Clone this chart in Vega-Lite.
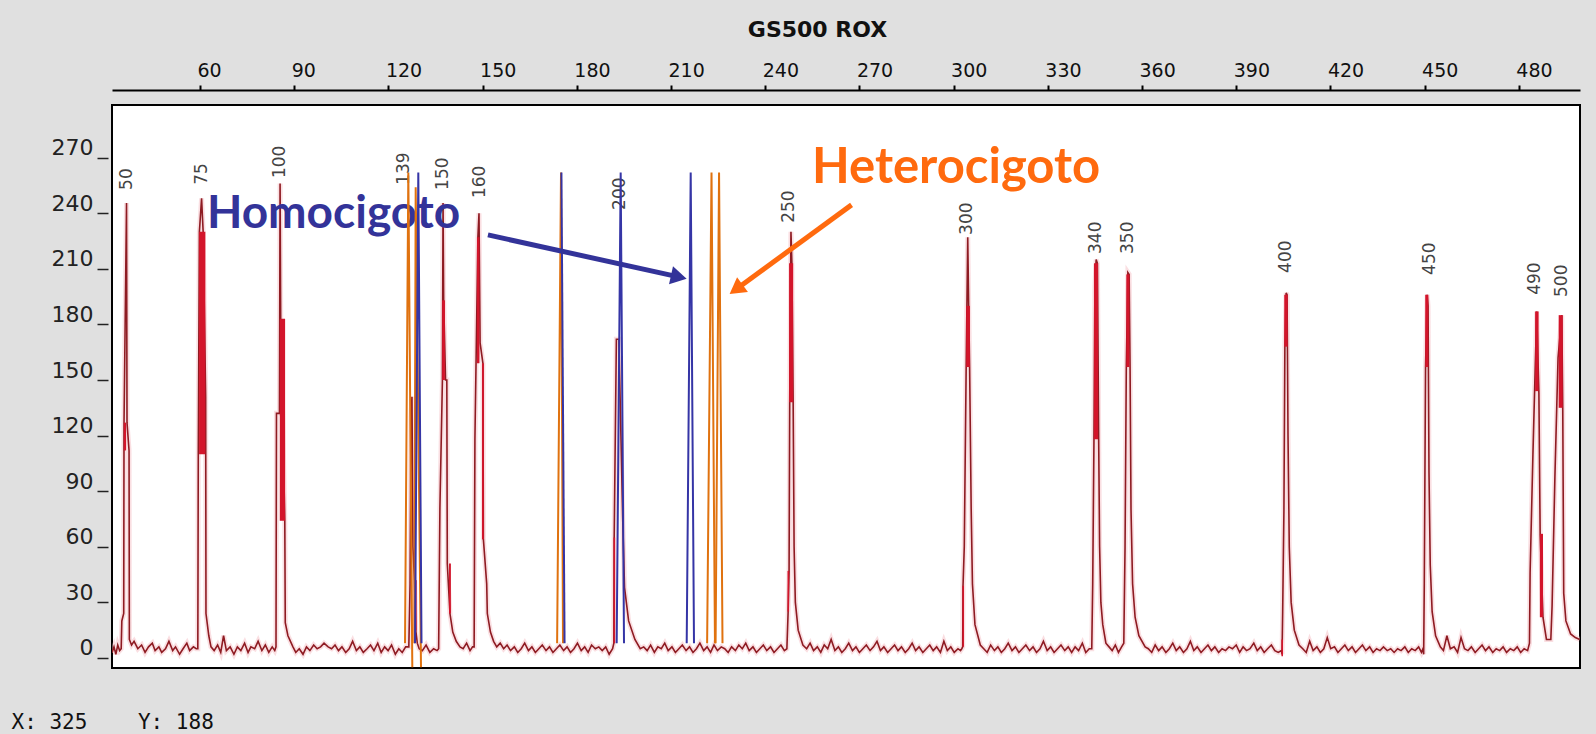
{
  "$schema": "https://vega.github.io/schema/vega-lite/v6.json",
  "autosize": {"type": "none"},
  "padding": {"left": 112, "top": 105, "right": 16, "bottom": 66},
  "width": 1468,
  "height": 563,
  "background": "#e0e0e0",
  "config": {
    "view": {"stroke": "#000000", "strokeWidth": 2, "fill": "#ffffff"},
    "axis": {"grid": false}
  },
  "datasets": {
    "trace": [
      {"x":32.0,"y":3},{"x":32.6,"y":6},{"x":33.2,"y":2},{"x":33.8,"y":7},{"x":34.4,"y":4},
      {"x":34.9,"y":5},{"x":35.1,"y":20},{"x":35.7,"y":24},{"x":35.8,"y":127},{"x":36.6,"y":245.5},{"x":36.75,"y":127},{"x":37.4,"y":112},{"x":37.5,"y":10},{"x":38.2,"y":7},
      {"x":39.0,"y":9},{"x":40.2,"y":5},{"x":41.4,"y":7},{"x":42.5,"y":3},{"x":43.6,"y":6},{"x":44.8,"y":8},{"x":45.7,"y":4},{"x":46.9,"y":6},{"x":47.8,"y":3},{"x":49.0,"y":5},{"x":50.1,"y":9},{"x":51.3,"y":4},{"x":52.2,"y":6},{"x":53.5,"y":2},{"x":54.6,"y":5},{"x":55.8,"y":8},{"x":56.7,"y":4},{"x":57.9,"y":6},{"x":58.8,"y":5},
      {"x":59.3,"y":5},{"x":59.45,"y":110},{"x":59.8,"y":230},{"x":60.5,"y":248},{"x":61.0,"y":230},{"x":61.8,"y":141},{"x":61.9,"y":24},{"x":62.8,"y":12},{"x":63.5,"y":6},
      {"x":64.5,"y":4},{"x":65.6,"y":7},{"x":66.6,"y":3},{"x":67.5,"y":12},{"x":68.4,"y":4},{"x":69.6,"y":6},{"x":70.8,"y":2},{"x":71.9,"y":6},{"x":73.0,"y":4},{"x":74.2,"y":8},{"x":75.3,"y":3},{"x":76.2,"y":6},{"x":77.4,"y":5},{"x":78.5,"y":9},{"x":79.7,"y":4},{"x":80.8,"y":7},{"x":81.9,"y":3},{"x":83.0,"y":6},{"x":83.8,"y":4},
      {"x":84.2,"y":6},{"x":84.35,"y":132},{"x":85.3,"y":132},{"x":85.5,"y":256},{"x":85.7,"y":183},{"x":87.0,"y":74},{"x":87.15,"y":19},{"x":88.0,"y":12},{"x":89.6,"y":6},
      {"x":90.5,"y":3},{"x":91.6,"y":5},{"x":92.8,"y":2},{"x":93.9,"y":6},{"x":95.0,"y":4},{"x":96.2,"y":7},{"x":97.3,"y":5},{"x":98.4,"y":6},{"x":99.5,"y":8},{"x":100.8,"y":6},{"x":101.9,"y":5},{"x":103.0,"y":7},{"x":104.1,"y":4},{"x":105.2,"y":6},{"x":106.4,"y":3},{"x":107.5,"y":5},{"x":108.6,"y":9},{"x":109.8,"y":4},{"x":110.9,"y":6},{"x":112.0,"y":3},{"x":113.2,"y":5},{"x":114.3,"y":7},{"x":115.4,"y":4},{"x":116.6,"y":8},{"x":117.7,"y":3},{"x":118.8,"y":6},{"x":119.9,"y":4},{"x":121.0,"y":7},{"x":122.2,"y":2},{"x":123.3,"y":5},{"x":124.4,"y":3},{"x":125.5,"y":6},
      {"x":126.5,"y":6},{"x":126.9,"y":40},{"x":127.2,"y":130},{"x":127.5,"y":141},{"x":127.8,"y":60},{"x":128.3,"y":42},{"x":128.7,"y":15},{"x":129.2,"y":8},{"x":129.8,"y":5},
      {"x":130.8,"y":4},{"x":132.0,"y":7},{"x":133.2,"y":3},{"x":134.4,"y":5},{"x":135.5,"y":4},
      {"x":136.0,"y":5},{"x":136.4,"y":81},{"x":137.2,"y":150},{"x":137.4,"y":245.5},{"x":137.6,"y":193},{"x":138.2,"y":150},{"x":138.6,"y":150},{"x":138.75,"y":51},{"x":139.6,"y":24},{"x":140.5,"y":14},{"x":141.6,"y":9},{"x":142.8,"y":6},
      {"x":143.8,"y":5},{"x":144.9,"y":8},{"x":146.0,"y":4},{"x":146.8,"y":6},
      {"x":147.3,"y":6},{"x":147.55,"y":118},{"x":148.5,"y":227},{"x":148.85,"y":240},{"x":149.2,"y":170},{"x":150.1,"y":159},{"x":150.25,"y":64},{"x":151.3,"y":40},{"x":151.5,"y":24},{"x":152.5,"y":14},{"x":153.5,"y":9},{"x":154.5,"y":6},
      {"x":155.6,"y":8},{"x":156.7,"y":5},{"x":157.8,"y":7},{"x":158.9,"y":4},{"x":160.1,"y":6},{"x":161.2,"y":3},{"x":162.3,"y":5},{"x":163.4,"y":8},{"x":164.6,"y":4},{"x":165.7,"y":6},{"x":166.8,"y":3},{"x":167.9,"y":5},{"x":169.0,"y":7},{"x":170.2,"y":4},{"x":171.3,"y":6},{"x":172.4,"y":3},{"x":173.5,"y":5},{"x":174.6,"y":7},{"x":175.8,"y":4},{"x":176.9,"y":6},{"x":178.0,"y":3},{"x":179.1,"y":5},{"x":180.2,"y":8},{"x":181.4,"y":4},{"x":182.5,"y":6},{"x":183.6,"y":3},{"x":184.7,"y":7},{"x":185.9,"y":5},{"x":187.0,"y":6},{"x":188.1,"y":4},{"x":189.2,"y":6},{"x":190.3,"y":2},
      {"x":191.4,"y":5},{"x":191.8,"y":8},{"x":191.9,"y":65},{"x":192.6,"y":172},{"x":193.4,"y":172},{"x":194.6,"y":76},{"x":195.2,"y":38},{"x":196.5,"y":20},{"x":198.5,"y":10},{"x":200.2,"y":5},
      {"x":201.3,"y":6},{"x":202.4,"y":4},{"x":203.5,"y":7},{"x":204.7,"y":3},{"x":205.8,"y":6},{"x":206.9,"y":5},{"x":208.0,"y":8},{"x":209.1,"y":4},{"x":210.3,"y":6},{"x":211.4,"y":3},{"x":212.5,"y":5},{"x":213.6,"y":7},{"x":214.8,"y":4},{"x":215.9,"y":6},{"x":217.0,"y":3},{"x":218.1,"y":5},{"x":219.2,"y":8},{"x":220.4,"y":4},{"x":221.5,"y":6},{"x":222.6,"y":3},{"x":223.7,"y":7},{"x":224.8,"y":4},{"x":226.0,"y":6},{"x":227.1,"y":5},{"x":228.2,"y":3},{"x":229.3,"y":6},{"x":230.5,"y":4},{"x":231.6,"y":7},{"x":232.7,"y":5},{"x":233.8,"y":8},{"x":234.9,"y":4},{"x":236.1,"y":6},{"x":237.2,"y":3},{"x":238.3,"y":5},{"x":239.4,"y":7},{"x":240.5,"y":4},{"x":241.7,"y":6},{"x":242.8,"y":3},{"x":243.9,"y":5},{"x":245.0,"y":7},{"x":246.1,"y":4},
      {"x":246.9,"y":5},{"x":247.3,"y":25},{"x":247.6,"y":47},{"x":247.8,"y":138},{"x":248.2,"y":230},{"x":248.5,"y":213},{"x":248.9,"y":138},{"x":249.2,"y":60},{"x":249.6,"y":30},{"x":250.5,"y":15},{"x":252.0,"y":7},
      {"x":253.2,"y":5},{"x":254.3,"y":8},{"x":255.4,"y":4},{"x":256.6,"y":6},{"x":257.7,"y":3},{"x":258.8,"y":7},{"x":259.9,"y":5},{"x":261.0,"y":10},{"x":262.2,"y":4},{"x":263.3,"y":6},{"x":264.4,"y":3},{"x":265.5,"y":5},{"x":266.6,"y":8},{"x":267.8,"y":4},{"x":268.9,"y":6},{"x":270.0,"y":3},{"x":271.1,"y":5},{"x":272.2,"y":7},{"x":273.4,"y":4},{"x":274.5,"y":6},{"x":275.6,"y":9},{"x":276.7,"y":4},{"x":277.8,"y":6},{"x":279.0,"y":3},{"x":280.1,"y":5},{"x":281.2,"y":7},{"x":282.3,"y":4},{"x":283.4,"y":6},{"x":284.6,"y":3},{"x":285.7,"y":5},{"x":286.8,"y":8},{"x":287.9,"y":4},{"x":289.0,"y":6},{"x":290.2,"y":3},{"x":291.3,"y":5},{"x":292.4,"y":7},{"x":293.5,"y":4},{"x":294.6,"y":6},{"x":295.8,"y":3},{"x":296.9,"y":9},{"x":298.0,"y":4},{"x":299.1,"y":6},{"x":300.2,"y":3},{"x":301.4,"y":5},{"x":302.2,"y":4},
      {"x":302.6,"y":5},{"x":302.9,"y":6},{"x":303.0,"y":39},{"x":303.4,"y":60},{"x":304.0,"y":157},{"x":304.5,"y":227},{"x":304.8,"y":190},{"x":305.1,"y":157},{"x":305.6,"y":80},{"x":306.0,"y":40},{"x":306.8,"y":18},{"x":308.5,"y":7},
      {"x":309.6,"y":5},{"x":310.7,"y":3},{"x":311.8,"y":7},{"x":313.0,"y":4},{"x":314.1,"y":6},{"x":315.2,"y":3},{"x":316.3,"y":5},{"x":317.4,"y":8},{"x":318.6,"y":4},{"x":319.7,"y":6},{"x":320.8,"y":3},{"x":321.9,"y":5},{"x":323.0,"y":7},{"x":324.2,"y":4},{"x":325.3,"y":6},{"x":326.4,"y":3},{"x":327.5,"y":5},{"x":328.6,"y":9},{"x":329.8,"y":4},{"x":330.9,"y":6},{"x":332.0,"y":3},{"x":333.1,"y":5},{"x":334.2,"y":7},{"x":335.4,"y":4},{"x":336.5,"y":6},{"x":337.6,"y":3},{"x":338.7,"y":6},{"x":339.8,"y":4},{"x":341.0,"y":8},{"x":342.1,"y":3},{"x":343.2,"y":5},
      {"x":344.0,"y":5},{"x":344.3,"y":40},{"x":344.7,"y":118},{"x":345.0,"y":200},{"x":345.4,"y":215},{"x":345.8,"y":213},{"x":346.2,"y":118},{"x":346.5,"y":60},{"x":346.9,"y":30},{"x":347.5,"y":18},{"x":348.5,"y":8},
      {"x":349.5,"y":6},{"x":350.5,"y":4},{"x":351.5,"y":7},{"x":352.5,"y":3},{"x":353.5,"y":6},
      {"x":354.2,"y":8},{"x":354.6,"y":60},{"x":355.0,"y":157},{"x":355.5,"y":208},{"x":355.9,"y":207},{"x":356.2,"y":157},{"x":356.5,"y":80},{"x":357.0,"y":40},{"x":357.8,"y":22},{"x":359.0,"y":12},{"x":361.0,"y":6},
      {"x":362.0,"y":5},{"x":363.1,"y":3},{"x":364.2,"y":7},{"x":365.3,"y":4},{"x":366.4,"y":6},{"x":367.6,"y":3},{"x":368.7,"y":5},{"x":369.8,"y":8},{"x":370.9,"y":4},{"x":372.0,"y":6},{"x":373.2,"y":3},{"x":374.3,"y":5},{"x":375.4,"y":9},{"x":376.5,"y":4},{"x":377.6,"y":6},{"x":378.8,"y":3},{"x":379.9,"y":5},{"x":381.0,"y":7},{"x":382.1,"y":4},{"x":383.2,"y":6},{"x":384.4,"y":3},{"x":385.5,"y":5},{"x":386.6,"y":4},{"x":387.7,"y":6},{"x":388.8,"y":5},{"x":390.0,"y":7},{"x":391.1,"y":3},{"x":392.2,"y":6},{"x":393.3,"y":4},{"x":394.4,"y":5},{"x":395.6,"y":8},{"x":396.7,"y":4},{"x":397.8,"y":6},{"x":398.9,"y":3},{"x":400.0,"y":5},{"x":401.2,"y":7},{"x":402.3,"y":4},{"x":403.4,"y":3},
      {"x":404.4,"y":4},{"x":404.6,"y":2},{"x":404.8,"y":25},{"x":405.2,"y":80},{"x":405.5,"y":168},{"x":405.9,"y":197},{"x":406.2,"y":196},{"x":406.5,"y":120},{"x":406.9,"y":60},{"x":407.5,"y":30},{"x":408.5,"y":15},{"x":410.0,"y":7},
      {"x":411.2,"y":5},{"x":412.3,"y":3},{"x":413.4,"y":9},{"x":414.5,"y":4},{"x":415.7,"y":6},{"x":416.8,"y":3},{"x":417.9,"y":5},{"x":419.0,"y":11},{"x":420.1,"y":5},{"x":421.3,"y":6},{"x":422.4,"y":3},{"x":423.5,"y":5},{"x":424.6,"y":7},{"x":425.7,"y":4},{"x":426.9,"y":6},{"x":428.0,"y":3},{"x":429.1,"y":5},{"x":430.2,"y":7},{"x":431.3,"y":4},{"x":432.5,"y":6},{"x":433.6,"y":3},{"x":434.7,"y":5},{"x":435.8,"y":4},{"x":436.9,"y":6},{"x":438.1,"y":4},{"x":439.2,"y":5},{"x":440.3,"y":3},{"x":441.4,"y":5},{"x":442.5,"y":4},{"x":443.7,"y":6},{"x":444.8,"y":3},{"x":445.9,"y":5},{"x":447.0,"y":4},{"x":448.1,"y":6},{"x":449.0,"y":3},
      {"x":449.5,"y":5},{"x":449.7,"y":2},{"x":449.9,"y":40},{"x":450.3,"y":157},{"x":450.8,"y":196},{"x":451.1,"y":190},{"x":451.4,"y":100},{"x":451.8,"y":50},{"x":452.4,"y":25},{"x":453.5,"y":12},{"x":455.0,"y":6},
      {"x":456.0,"y":4},{"x":457.1,"y":12},{"x":458.2,"y":5},{"x":459.4,"y":6},{"x":460.5,"y":3},{"x":461.6,"y":11},{"x":462.7,"y":5},{"x":463.8,"y":4},{"x":464.9,"y":6},{"x":466.1,"y":3},{"x":467.2,"y":5},{"x":468.3,"y":7},{"x":469.4,"y":4},{"x":470.5,"y":6},{"x":471.7,"y":3},{"x":472.8,"y":5},{"x":473.9,"y":4},{"x":475.0,"y":6},{"x":476.1,"y":3},{"x":477.3,"y":5},{"x":478.4,"y":4},{"x":479.5,"y":6},{"x":480.6,"y":3},{"x":481.7,"y":5},{"x":482.8,"y":4},
      {"x":483.4,"y":8},{"x":483.6,"y":46},{"x":484.5,"y":110},{"x":485.7,"y":187},{"x":486.4,"y":143},{"x":486.8,"y":67},{"x":487.7,"y":22},{"x":488.8,"y":10},{"x":490.2,"y":10},{"x":490.6,"y":28},{"x":491.5,"y":98},{"x":492.5,"y":162},{"x":493.7,"y":185},{"x":494.0,"y":134},{"x":494.3,"y":35},{"x":495.0,"y":20},{"x":496.5,"y":13},{"x":498.0,"y":11},{"x":499.4,"y":10}
    ],
    "bands": [
      {"x":35.75,"x2":36.45,"y":112,"y2":127},
      {"x":59.7,"x2":61.7,"y":110,"y2":230},
      {"x":85.4,"x2":87.1,"y":74,"y2":183},
      {"x":128.4,"x2":129.0,"y":15,"y2":42},
      {"x":137.1,"x2":138.0,"y":150,"y2":193},
      {"x":139.3,"x2":139.9,"y":24,"y2":51},
      {"x":148.2,"x2":149.0,"y":159,"y2":227},
      {"x":149.8,"x2":150.4,"y":64,"y2":159},
      {"x":191.7,"x2":192.2,"y":8,"y2":65},
      {"x":247.6,"x2":248.9,"y":138,"y2":213},
      {"x":247.1,"x2":247.6,"y":25,"y2":47},
      {"x":302.8,"x2":303.3,"y":6,"y2":39},
      {"x":304.0,"x2":305.2,"y":157,"y2":190},
      {"x":344.7,"x2":346.0,"y":118,"y2":213},
      {"x":355.0,"x2":356.0,"y":157,"y2":207},
      {"x":405.3,"x2":406.4,"y":168,"y2":196},
      {"x":404.4,"x2":404.9,"y":1,"y2":10},
      {"x":450.2,"x2":451.2,"y":157,"y2":196},
      {"x":485.2,"x2":486.3,"y":144,"y2":187},
      {"x":486.7,"x2":487.7,"y":22,"y2":67},
      {"x":492.7,"x2":494.0,"y":135,"y2":185}
    ],
    "peaklabels": [
      {"x":36.6,"y":252.6,"t":"50"},
      {"x":60.5,"y":255.3,"t":"75"},
      {"x":85.5,"y":259,"t":"100"},
      {"x":125.0,"y":255.3,"t":"139"},
      {"x":137.4,"y":252.6,"t":"150"},
      {"x":149.3,"y":248.2,"t":"160"},
      {"x":193.8,"y":241.8,"t":"200"},
      {"x":247.7,"y":234.8,"t":"250"},
      {"x":304.4,"y":228.3,"t":"300"},
      {"x":345.2,"y":218,"t":"340"},
      {"x":355.5,"y":218,"t":"350"},
      {"x":405.9,"y":207.8,"t":"400"},
      {"x":451.7,"y":206.7,"t":"450"},
      {"x":485.3,"y":196,"t":"490"},
      {"x":493.9,"y":194.8,"t":"500"}
    ],
    "orangespikes": [
      {"id":"o1","x":125.29,"y":8},{"id":"o1","x":126.34,"y":262},{"id":"o1","x":127.61,"y":-5},
      {"id":"o2","x":128.25,"y":8},{"id":"o2","x":128.69,"y":254},{"id":"o2","x":130.38,"y":-5},
      {"id":"o3","x":173.73,"y":8},{"id":"o3","x":174.97,"y":262},{"id":"o3","x":175.6,"y":8},
      {"id":"o4","x":221.5,"y":8},{"id":"o4","x":222.9,"y":262},{"id":"o4","x":224.0,"y":8},
      {"id":"o5","x":224.2,"y":8},{"id":"o5","x":225.3,"y":262},{"id":"o5","x":226.4,"y":8}
    ],
    "bluespikes": [
      {"id":"b1","x":128.47,"y":8},{"id":"b1","x":129.52,"y":262},{"id":"b1","x":130.54,"y":8},
      {"id":"b2","x":175.1,"y":262},{"id":"b2","x":176.1,"y":8},
      {"id":"b3","x":192.7,"y":8},{"id":"b3","x":193.97,"y":262},{"id":"b3","x":195.03,"y":8},
      {"id":"b4","x":215.0,"y":8},{"id":"b4","x":216.27,"y":262},{"id":"b4","x":217.32,"y":8}
    ],
    "homo": [
      {"t":"Homocigoto","x":62.2,"y":232,"x1":151.7,"y1":228.3,"x2":211.66,"y2":205.9,"a":102.4}
    ],
    "hetero": [
      {"t":"Heterocigoto","x":254.9,"y":256.3,"x1":267.5,"y1":244.5,"x2":231.4,"y2":199.8,"a":233.9}
    ]
  },
  "layer": [
    {
      "data": {"name": "trace"},
      "mark": {"type": "line", "color": "#f4b8be", "strokeWidth": 5, "opacity": 0.45, "clip": true},
      "encoding": {
        "x": {"field": "x", "type": "quantitative",
          "scale": {"domain": [31.97, 499.49], "nice": false, "zero": false},
          "axis": {"orient": "top", "values": [60,90,120,150,180,210,240,270,300,330,360,390,420,450,480],
            "offset": 15, "domainColor": "#000000", "domainWidth": 2, "tickColor": "#000000", "tickWidth": 2, "tickSize": 5,
            "labelFont": "DejaVu Sans", "labelFontSize": 19, "labelColor": "#111111", "labelAlign": "left", "labelOffset": -3, "labelPadding": 5,
            "title": "GS500 ROX", "titleFont": "DejaVu Sans", "titleFontSize": 22, "titleFontWeight": "bold", "titleColor": "#111111",
            "titleX": 705, "titleY": -54, "titleAlign": "center", "titleBaseline": "alphabetic"}},
        "y": {"field": "y", "type": "quantitative",
          "scale": {"domain": [-5.4, 298.4], "nice": false, "zero": false},
          "axis": {"orient": "left", "values": [0,30,60,90,120,150,180,210,240,270],
            "offset": 4, "domain": false, "tickColor": "#222222", "tickWidth": 1.5, "tickSize": 11,
            "labelFont": "DejaVu Sans", "labelFontSize": 22, "labelColor": "#222222", "labelBaseline": "alphabetic", "labelOffset": -3, "labelPadding": 4,
            "title": "X: 325\u00a0\u00a0\u00a0\u00a0Y: 188", "titleAngle": 0, "titleAlign": "left", "titleBaseline": "alphabetic",
            "titleX": -97, "titleY": 623, "titleFont": "DejaVu Sans Mono", "titleFontSize": 21, "titleFontWeight": "normal", "titleColor": "#111111"}}
      }
    },
    {
      "data": {"name": "trace"},
      "mark": {"type": "line", "color": "#8e1b22", "strokeWidth": 1.6, "clip": true},
      "encoding": {"x": {"field": "x", "type": "quantitative"}, "y": {"field": "y", "type": "quantitative"}}
    },
    {
      "data": {"name": "bands"},
      "mark": {"type": "rect", "color": "#d3152b", "clip": true},
      "encoding": {"x": {"field": "x", "type": "quantitative"}, "x2": {"field": "x2"}, "y": {"field": "y", "type": "quantitative"}, "y2": {"field": "y2"}}
    },
    {
      "data": {"name": "peaklabels"},
      "mark": {"type": "text", "angle": 270, "align": "left", "baseline": "middle", "font": "DejaVu Sans", "fontSize": 17, "color": "#444444"},
      "encoding": {"x": {"field": "x", "type": "quantitative"}, "y": {"field": "y", "type": "quantitative"}, "text": {"field": "t"}}
    },
    {
      "data": {"name": "homo"},
      "mark": {"type": "text", "align": "left", "baseline": "alphabetic", "font": "Lato", "fontSize": 46, "fontWeight": "bold", "color": "#333399"},
      "encoding": {"x": {"field": "x", "type": "quantitative"}, "y": {"field": "y", "type": "quantitative"}, "text": {"field": "t"}}
    },
    {
      "data": {"name": "hetero"},
      "mark": {"type": "text", "align": "left", "baseline": "alphabetic", "font": "Lato", "fontSize": 49, "fontWeight": "bold", "color": "#ff6a0e"},
      "encoding": {"x": {"field": "x", "type": "quantitative"}, "y": {"field": "y", "type": "quantitative"}, "text": {"field": "t"}}
    },
    {
      "data": {"name": "orangespikes"},
      "mark": {"type": "line", "strokeWidth": 2, "color": "#e0720f", "clip": true},
      "encoding": {"x": {"field": "x", "type": "quantitative"}, "y": {"field": "y", "type": "quantitative"}, "detail": {"field": "id"}}
    },
    {
      "data": {"name": "bluespikes"},
      "mark": {"type": "line", "strokeWidth": 2, "color": "#3535a6", "clip": true},
      "encoding": {"x": {"field": "x", "type": "quantitative"}, "y": {"field": "y", "type": "quantitative"}, "detail": {"field": "id"}}
    },
    {
      "data": {"name": "homo"},
      "mark": {"type": "rule", "strokeWidth": 5, "color": "#333399"},
      "encoding": {"x": {"field": "x1", "type": "quantitative"}, "y": {"field": "y1", "type": "quantitative"}, "x2": {"field": "x2"}, "y2": {"field": "y2"}}
    },
    {
      "data": {"name": "homo"},
      "mark": {"type": "point", "shape": "triangle", "filled": true, "size": 340, "opacity": 1, "color": "#333399"},
      "encoding": {"x": {"field": "x2", "type": "quantitative"}, "y": {"field": "y2", "type": "quantitative"}, "angle": {"field": "a", "type": "quantitative", "scale": null}}
    },
    {
      "data": {"name": "hetero"},
      "mark": {"type": "rule", "strokeWidth": 5, "color": "#ff6a0e"},
      "encoding": {"x": {"field": "x1", "type": "quantitative"}, "y": {"field": "y1", "type": "quantitative"}, "x2": {"field": "x2"}, "y2": {"field": "y2"}}
    },
    {
      "data": {"name": "hetero"},
      "mark": {"type": "point", "shape": "triangle", "filled": true, "size": 340, "opacity": 1, "color": "#ff6a0e"},
      "encoding": {"x": {"field": "x2", "type": "quantitative"}, "y": {"field": "y2", "type": "quantitative"}, "angle": {"field": "a", "type": "quantitative", "scale": null}}
    }
  ]
}
